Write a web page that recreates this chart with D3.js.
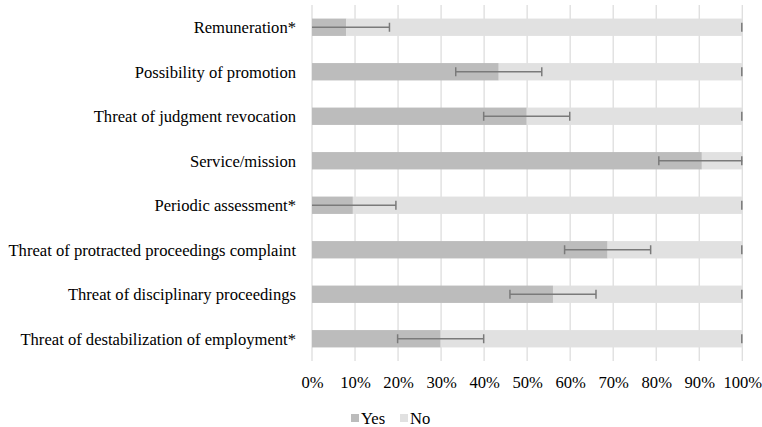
<!DOCTYPE html>
<html>
<head>
<meta charset="utf-8">
<script src="https://cdnjs.cloudflare.com/ajax/libs/d3/7.8.5/d3.min.js"></script>
<style>
  body { margin: 0; background: #fff; }
</style>
</head>
<body>
<div id="chart"></div>
<script>
// data (percent)
var categories = [
    "Remuneration*",
    "Possibility of promotion",
    "Threat of judgment revocation",
    "Service/mission",
    "Periodic assessment*",
    "Threat of protracted proceedings complaint",
    "Threat of disciplinary proceedings",
    "Threat of destabilization of employment*"
];
var yesValues = [8.0, 43.4, 49.9, 90.6, 9.5, 68.7, 56.0, 29.9];
var noValues = yesValues.map(function(v) { return 100 - v; });
var yesError = [10, 10, 10, 10, 10, 10, 10, 10];
var xTicks = [0, 10, 20, 30, 40, 50, 60, 70, 80, 90, 100];
var seriesNames = ["Yes", "No"];

var FONT = "'Liberation Serif'";
var FS = 16.6;

var width = 762, height = 427;
var margin = {top: 5, bottom: 66, left: 312, right: 20};

var svg = d3.select("#chart").append("svg")
    .attr("width", width)
    .attr("height", height)
    .attr("font-family", FONT);

var g = svg.append("g")
    .attr("transform", "translate(" + margin.left + "," + margin.top + ")");

var plotW = 742.3 - margin.left;
var plotH = height - margin.top - margin.bottom;

var x = d3.scaleLinear().domain([0, 100]).range([0, plotW]);
var y = d3.scaleBand().domain(categories).range([0, plotH]).paddingInner(0.61).paddingOuter(0.305);

var color = d3.scaleOrdinal().domain(seriesNames).range(["#bcbcbc", "#e1e1e1"]);

// gridlines
g.selectAll(".grid")
    .data(xTicks)
    .enter().append("line")
    .attr("class", "grid")
    .attr("x1", function(d) { return x(d); })
    .attr("x2", function(d) { return x(d); })
    .attr("y1", 0)
    .attr("y2", plotH)
    .attr("stroke", "#dedede")
    .attr("stroke-width", 1.3);

// stacked bars
var rows = categories.map(function(c, i) {
    return {cat: c, Yes: yesValues[i], No: noValues[i], err: yesError[i]};
});
var stack = d3.stack().keys(seriesNames)(rows);

g.selectAll(".series")
    .data(stack)
    .enter().append("g")
    .attr("fill", function(d) { return color(d.key); })
    .selectAll("rect")
    .data(function(d) { return d; })
    .enter().append("rect")
    .attr("x", function(d) { return x(d[0]); })
    .attr("width", function(d) { return x(d[1]) - x(d[0]); })
    .attr("y", function(d) { return y(d.data.cat); })
    .attr("height", y.bandwidth());

// error bars on Yes
var errColor = "#7a7a7a";
var capH = 9;
var eb = g.selectAll(".err")
    .data(rows)
    .enter().append("g")
    .attr("transform", function(d) { return "translate(0," + (y(d.cat) + y.bandwidth() / 2) + ")"; });

eb.append("line")
    .attr("x1", function(d) { return x(Math.max(0, d.Yes - d.err)); })
    .attr("x2", function(d) { return x(Math.min(100, d.Yes + d.err)); })
    .attr("stroke", errColor)
    .attr("stroke-width", 1.5);

eb.filter(function(d) { return d.Yes - d.err > 0; })
    .append("line")
    .attr("x1", function(d) { return x(d.Yes - d.err); })
    .attr("x2", function(d) { return x(d.Yes - d.err); })
    .attr("y1", -capH / 2).attr("y2", capH / 2)
    .attr("stroke", errColor).attr("stroke-width", 1.5);

eb.filter(function(d) { return d.Yes + d.err < 100; })
    .append("line")
    .attr("x1", function(d) { return x(d.Yes + d.err); })
    .attr("x2", function(d) { return x(d.Yes + d.err); })
    .attr("y1", -capH / 2).attr("y2", capH / 2)
    .attr("stroke", errColor).attr("stroke-width", 1.5);

// cap of the No series error bar at 100%
eb.append("line")
    .attr("x1", function(d) { return x(d.Yes + d.No) - 0.5; })
    .attr("x2", function(d) { return x(d.Yes + d.No) - 0.5; })
    .attr("y1", -capH / 2).attr("y2", capH / 2)
    .attr("stroke", errColor).attr("stroke-width", 1.5);

// y axis labels
g.selectAll(".ylab")
    .data(categories)
    .enter().append("text")
    .attr("x", -16)
    .attr("y", function(d) { return y(d) + y.bandwidth() / 2; })
    .attr("dy", "0.35em")
    .attr("text-anchor", "end")
    .attr("font-family", FONT)
    .attr("font-size", FS)
    .attr("fill", "#000")
    .text(function(d) { return d; });

// x axis labels
var xAxis = d3.axisBottom(x)
    .tickValues(xTicks)
    .tickSize(0)
    .tickPadding(0)
    .tickFormat(function(d) { return d + "%"; });

var xg = g.append("g")
    .attr("transform", "translate(0," + (plotH + 15) + ")")
    .call(xAxis)
    .attr("font-family", FONT)
    .attr("font-size", FS);
xg.select(".domain").remove();
xg.selectAll("text")
    .attr("dy", "0.71em")
    .attr("fill", "#000");

// legend
var legend = svg.append("g")
    .attr("transform", "translate(351,418)");
var legX = [0, 49];
seriesNames.forEach(function(s, i) {
    legend.append("rect")
        .attr("x", legX[i])
        .attr("y", -4)
        .attr("width", 8)
        .attr("height", 8)
        .attr("fill", color(s));
    legend.append("text")
        .attr("x", legX[i] + 10)
        .attr("y", 0)
        .attr("dy", "0.35em")
        .attr("font-family", FONT)
        .attr("font-size", FS)
        .attr("fill", "#000")
        .text(s);
});
</script>
</body>
</html>
